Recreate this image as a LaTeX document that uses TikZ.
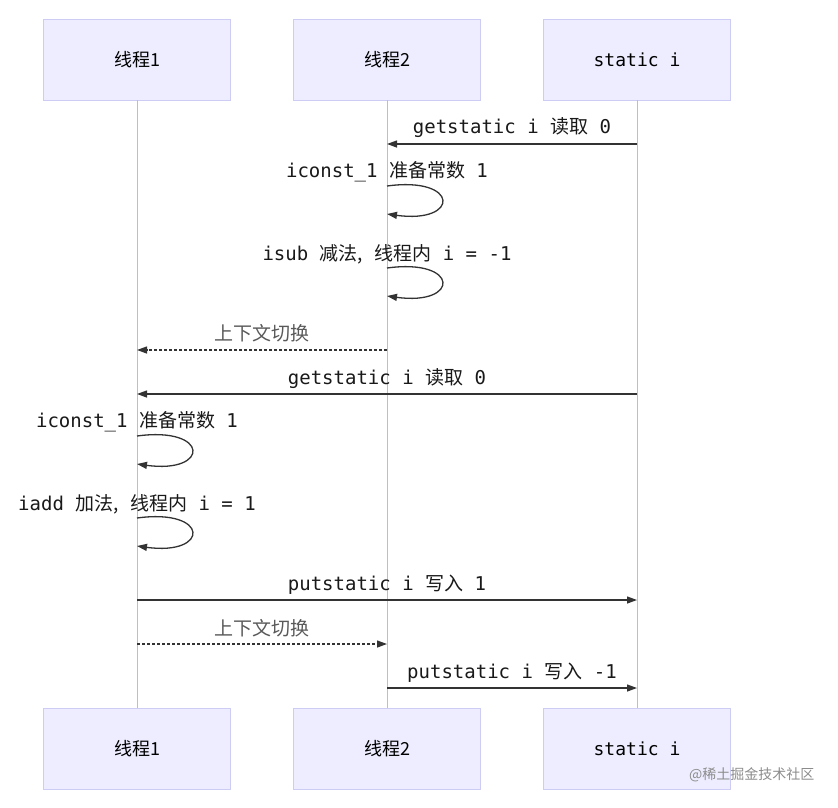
\documentclass[tikz,border=0pt]{standalone}
\usepackage{fontspec}
\setmainfont{DejaVu Sans Mono}
\newfontfamily\cjk{Noto Sans CJK SC}
\usetikzlibrary{arrows.meta}
\begin{document}
\begin{tikzpicture}[x=1pt,y=-1pt,
  actor/.style={draw=black!20!blue!20,fill=blue!7,line width=0.6pt,minimum width=187pt,minimum height=81pt,font=\fontsize{18}{21}\selectfont},
  life/.style={draw=black!25,line width=0.8pt},
  msg/.style={draw=black!80,line width=1.3pt,-{Triangle[length=10pt,width=7pt]}},
  dmsg/.style={msg,dash pattern=on 3pt off 2pt},
  lbl/.style={font=\fontsize{19}{22}\selectfont,text=black!90,inner sep=0pt}]
\useasboundingbox (0,0) rectangle (838,807);
\node[actor] (a1) at (137,59.5) {\cjk 线程1};
\node[actor] (a2) at (387,59.5) {\cjk 线程2};
\node[actor] (a3) at (637,59.5) {static i};
\node[actor] (b1) at (137,748.5) {\cjk 线程1};
\node[actor] (b2) at (387,748.5) {\cjk 线程2};
\node[actor] (b3) at (637,748.5) {static i};
\draw[life] (a1.south) -- (b1.north);
\draw[life] (a2.south) -- (b2.north);
\draw[life] (a3.south) -- (b3.north);
\foreach \n/\x/\y in {p1/637/144,q1/387/144,s1/387/186,e1/387/214,s2/387/268,e2/387/296,
  p3/387/350,q3/137/350,p4/637/394,q4/137/394,s5/137/436,e5/137/464,s6/137/518,e6/137/546,
  p7/137/600,q7/637/600,p8/137/644,q8/387/644,p9/387/688,q9/637/688}
  \coordinate (\n) at (\x,\y);
\draw[msg] (p1) -- (q1);
\node[lbl] (l1) at (512,128) {getstatic i {\cjk 读取} 0};
\draw[msg] (s1) .. controls (460,176) and (460,224) .. (e1);
\node[lbl] (l2) at (387,172) {iconst\_1 {\cjk 准备常数} 1};
\draw[msg] (s2) .. controls (460,258) and (460,306) .. (e2);
\node[lbl] (l3) at (387,254) {isub {\cjk 减法,} {\cjk 线程内} i = -1};
\draw[dmsg] (p3) -- (q3);
\node[lbl,text=black!65] (l4) at (262,333) {\cjk 上下文切换};
\draw[msg] (p4) -- (q4);
\node[lbl] (l5) at (387,379) {getstatic i {\cjk 读取} 0};
\draw[msg] (s5) .. controls (210,426) and (210,474) .. (e5);
\node[lbl] (l6) at (137,422) {iconst\_1 {\cjk 准备常数} 1};
\draw[msg] (s6) .. controls (210,508) and (210,556) .. (e6);
\node[lbl] (l7) at (137,504) {iadd {\cjk 加法,} {\cjk 线程内} i = 1};
\draw[msg] (p7) -- (q7);
\node[lbl] (l8) at (387,585) {putstatic i {\cjk 写入} 1};
\draw[dmsg] (p8) -- (q8);
\node[lbl,text=black!65] (l9) at (262,628) {\cjk 上下文切换};
\draw[msg] (p9) -- (q9);
\node[lbl] (l10) at (512,673) {putstatic i {\cjk 写入} -1};
\node[font=\fontsize{14}{16}\selectfont\cjk,text=black!45,anchor=east] (wm) at (818,775) {@稀土掘金技术社区};
\end{tikzpicture}
\end{document}
